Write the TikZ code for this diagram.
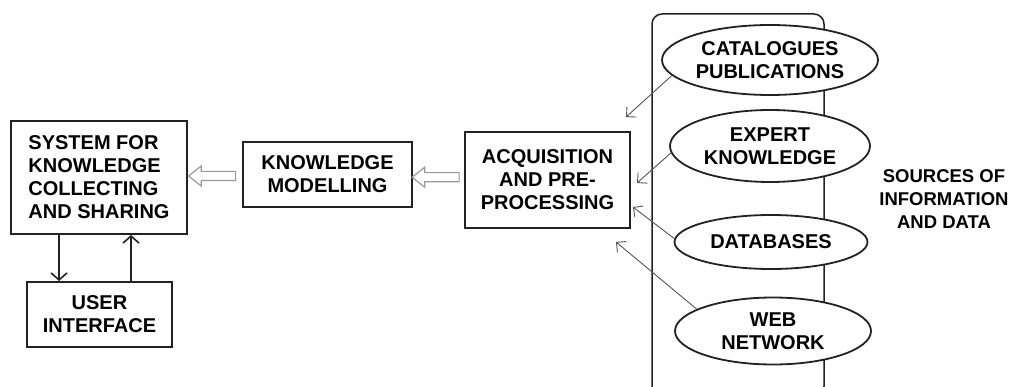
\documentclass[tikz,border=0pt]{standalone}
\usepackage{fontspec}
\setmainfont{Liberation Sans}
\usetikzlibrary{shapes.geometric,shapes.arrows,arrows.meta,calc}
\definecolor{ink}{HTML}{222222}
\definecolor{thin}{HTML}{555555}
\tikzset{
  box/.style={draw=ink, line width=2pt, inner sep=0pt, font=\fontsize{20}{23}\selectfont\bfseries},
  source/.style={ellipse, draw=ink, fill=white, line width=1.8pt, inner sep=-20pt, font=\fontsize{20}{23}\selectfont\bfseries, align=center},
  hollow/.style={single arrow, draw=gray!80, line width=1.2pt, fill=white, shape border rotate=180,
    minimum height=47pt, inner xsep=0pt, inner ysep=4pt, single arrow head extend=5.5pt,
    single arrow tip angle=77},
  feed/.style={draw=thin, line width=0.9pt, -{Straight Barb[length=7pt,width=14pt]}},
  link/.style={draw=ink, line width=1.6pt, -{Straight Barb[length=7pt,width=16pt]}}
}
\begin{document}
\begin{tikzpicture}[x=1pt, y=-1pt]
    \clip (0,0) rectangle (1017,387);
    \useasboundingbox (0,0) rectangle (1017,387);
    % boxes on the left
    \node[box, minimum width=176pt, minimum height=113pt, align=left] (sys) at (99,177.5)
        {SYSTEM FOR\\KNOWLEDGE\\COLLECTING\\AND SHARING};
    \node[box, minimum width=145pt, minimum height=65pt, align=center] (ui) at (99.5,314.5)
        {USER\\INTERFACE};
    \node[box, minimum width=169pt, minimum height=65pt, align=center] (km) at (327.5,174.5)
        {KNOWLEDGE\\MODELLING};
    \node[box, minimum width=165pt, minimum height=96pt, align=center] (acq) at (547.5,180)
        {ACQUISITION\\AND PRE-\\PROCESSING};
    % frame round the sources
    \node[draw=ink, line width=1.5pt, rounded corners=10pt, minimum width=172pt, minimum height=382pt] (src) at (738,205) {};
    \node[source, minimum width=216pt, minimum height=70pt] (cat) at (770,60) {CATALOGUES\\PUBLICATIONS};
    \node[source, minimum width=200pt, minimum height=72pt] (exp) at (770,146) {EXPERT\\KNOWLEDGE};
    \node[source, minimum width=193pt, minimum height=54pt] (db) at (771,242) {DATABASES};
    \node[source, minimum width=196pt, minimum height=67pt] (web) at (773,331) {WEB\\NETWORK};
    \node[font=\fontsize{18.5}{23}\selectfont\bfseries, align=center] (lbl) at (944,199)
        {SOURCES OF\\INFORMATION\\AND DATA};
    % hollow arrows between the boxes
    \node[hollow] (h1) at ($(sys.east)!0.5!(km.west)$) {};
    \node[hollow] (h2) at ($(km.east)!0.5!(acq.west)$) {};
    % user interface loop
    \draw[link] (sys.south -| 59,0) -- (ui.north -| 59,0);
    \draw[link] (ui.north -| 131,0) -- (sys.south -| 131,0);
    % feeds from the sources
    \coordinate (t1) at (626,117);
    \coordinate (t2) at (637,183);
    \coordinate (t3) at (633,207);
    \coordinate (t4) at (616,242);
    \foreach \s/\t in {cat.189/t1, exp.184/t2, db.178/t3, web.164/t4}{
        \draw[feed] (\s) -- (\t);
    }
\end{tikzpicture}
\end{document}
